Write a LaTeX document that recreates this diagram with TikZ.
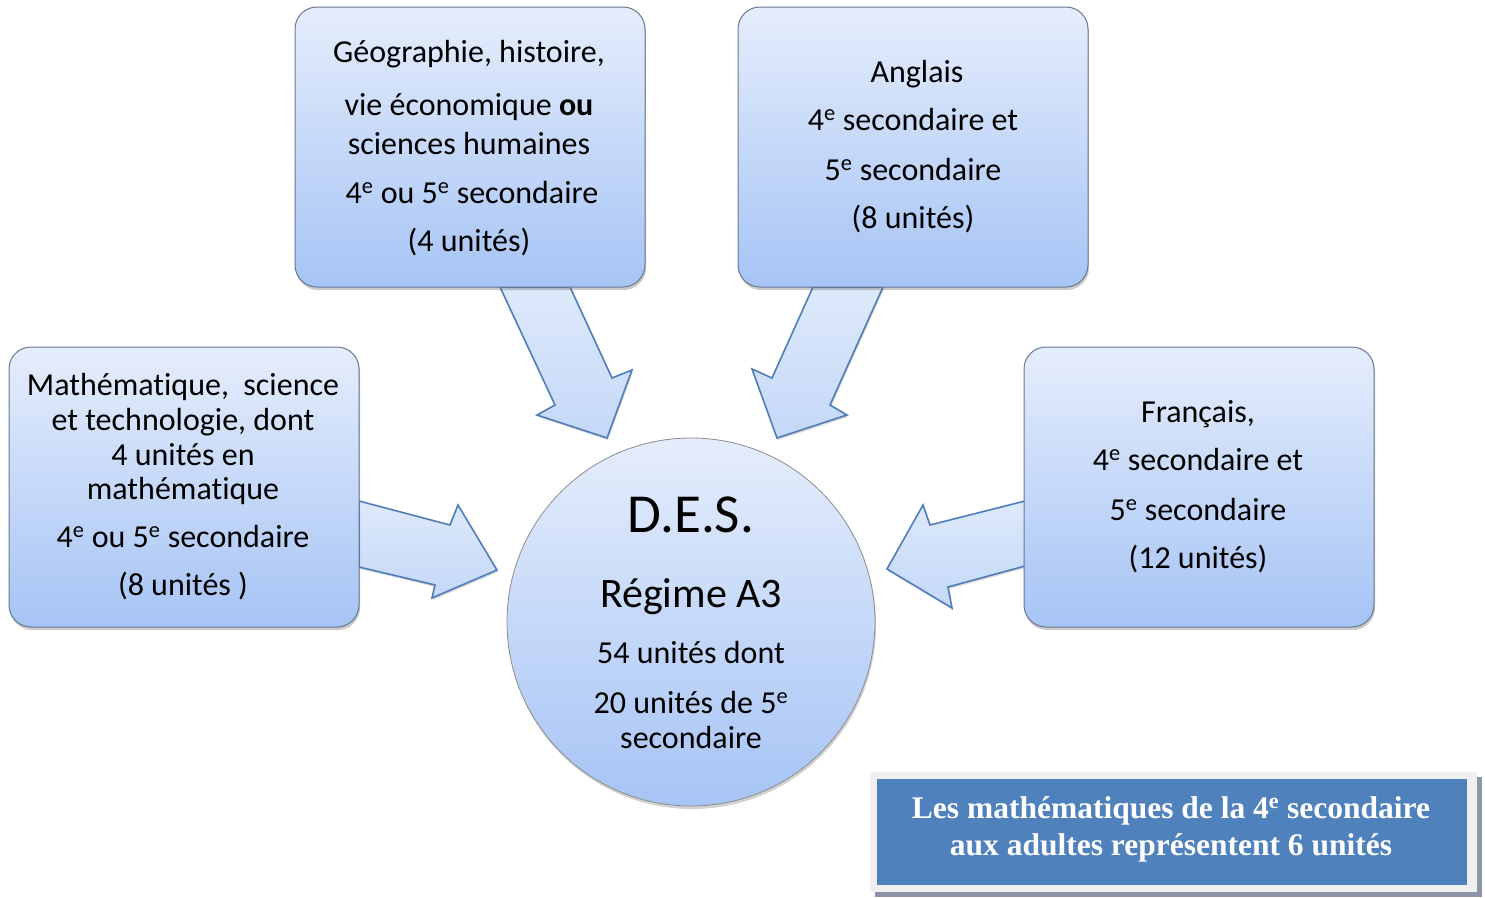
\documentclass[tikz,border=0pt]{standalone}
\usepackage{fontspec}
\setmainfont[Ligatures=NoCommon]{Carlito}
\newfontfamily\tnr{Liberation Serif}
\usetikzlibrary{shadows}
\definecolor{boxtop}{RGB}{229,237,252}
\definecolor{boxbot}{RGB}{166,196,245}
\definecolor{boxline}{RGB}{105,120,145}
\definecolor{arrtop}{RGB}{222,233,251}
\definecolor{arrbot}{RGB}{196,216,248}
\definecolor{arrline}{RGB}{79,125,185}
\definecolor{notefill}{RGB}{79,129,189}
\definecolor{noteframe}{RGB}{240,240,240}
\definecolor{noteshadow}{RGB}{140,150,168}
\tikzset{
  subjbox/.style={draw=boxline, line width=1pt, rounded corners=22pt,
    top color=boxtop, bottom color=boxbot,
    minimum width=350pt, minimum height=280pt, inner sep=0pt,
    drop shadow={shadow xshift=1pt, shadow yshift=-3pt, opacity=0.35, fill=black!60}},
  desbox/.style={circle, draw=black!45, line width=0.8pt,
    top color=boxtop, bottom color=boxbot, minimum size=368pt, inner sep=0pt,
    drop shadow={shadow xshift=1pt, shadow yshift=-3pt, opacity=0.3, fill=black!60}},
  blockarrow/.style={draw=arrline, line width=1.6pt, line join=miter,
    top color=arrtop, bottom color=arrbot,
    drop shadow={shadow xshift=1pt, shadow yshift=-2pt, opacity=0.25, fill=black!60}},
  ln/.style={inner sep=0pt, anchor=base, font=\fontsize{32}{38}\selectfont},
  big/.style={ln, font=\fontsize{55}{62}\selectfont},
  mid/.style={ln, font=\fontsize{42}{48}\selectfont},
  noteln/.style={inner sep=0pt, anchor=base, text=white,
    font=\tnr\bfseries\fontsize{31.5}{36}\selectfont},
}
\newcommand{\ee}{\textsuperscript{e}}
\begin{document}
\begin{tikzpicture}[x=1pt,y=-1pt]
\useasboundingbox (0,0) rectangle (1485,897);
% block arrows
\path[blockarrow] (500,287) -- (555,405) -- (537,415) -- (607,438) -- (632,370) -- (612,378) -- (570,287) -- cycle;
\path[blockarrow] (883,287) -- (830,405) -- (847,415) -- (777,438) -- (752,369) -- (772,378) -- (813,287) -- cycle;
\path[blockarrow] (359,501) -- (450,525) -- (458,505) -- (497,570) -- (432,598) -- (435,585) -- (359,567) -- cycle;
\path[blockarrow] (1025,501) -- (930,525) -- (923,505) -- (887,569) -- (952,608) -- (948,587) -- (1025,566) -- cycle;
% boxes
\node[subjbox] (geo) at (470,147) {};
\node[subjbox] (ang) at (913,147) {};
\node[subjbox] (mat) at (184,487) {};
\node[subjbox] (fra) at (1199,487) {};
\node[desbox] (des) at (691,622) {};
% texts
\node[ln] (geo1) at (469,62) {Géographie, histoire,};
\node[ln] (geo2) at (469,115) {vie économique \textbf{ou}};
\node[ln] (geo3) at (469,154) {sciences humaines};
\node[ln] (geo4) at (472,203) {4\ee{} ou 5\ee{} secondaire};
\node[ln] (geo5) at (469,251) {(4 unités)};
\node[ln] (ang1) at (917,82) {Anglais};
\node[ln] (ang2) at (913,130) {4\ee{} secondaire et};
\node[ln] (ang3) at (913,180) {5\ee{} secondaire};
\node[ln] (ang4) at (913,228) {(8 unités)};
\node[ln] (mat1) at (183,395) {Mathématique,~ science};
\node[ln] (mat2) at (183,430) {et technologie, dont};
\node[ln] (mat3) at (183,465) {4 unités en};
\node[ln] (mat4) at (183,499) {mathématique};
\node[ln] (mat5) at (183,547) {4\ee{} ou 5\ee{} secondaire};
\node[ln] (mat6) at (183,595) {(8 unités )};
\node[ln] (fra1) at (1198,422) {Français,};
\node[ln] (fra2) at (1198,470) {4\ee{} secondaire et};
\node[ln] (fra3) at (1198,520) {5\ee{} secondaire};
\node[ln] (fra4) at (1198,568) {(12 unités)};
\node[big] (des1) at (691,532) {D.E.S.};
\node[mid] (des2) at (691,607) {Régime A3};
\node[ln] (des3) at (691,663) {54 unités dont};
\node[ln] (des4) at (691,713) {20 unités de 5\ee};
\node[ln] (des5) at (691,748) {secondaire};
% note box
\fill[noteshadow] (875,777) rectangle (1482,897);
\fill[noteframe] (870,772) rectangle (1477,892);
\fill[notefill] (877,779) rectangle (1467,885);
\node[noteln] (note1) at (1171,818) {Les mathématiques de la 4\textsuperscript{e} secondaire};
\node[noteln] (note2) at (1171,855) {aux adultes représentent 6 unités};
\end{tikzpicture}
\end{document}
